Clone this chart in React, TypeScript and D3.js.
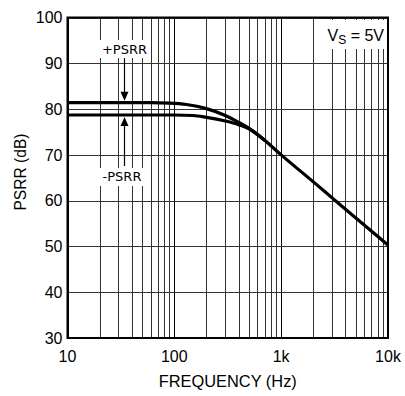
import React, { useEffect, useRef } from 'react'
import * as d3 from 'd3'

// values
const yTicks = [30, 40, 50, 60, 70, 80, 90, 100]
const xTicks = [10, 100, 1000, 10000]
const xTickLabels = ['10', '100', '1k', '10k']

const plusFreq = [10, 30, 60, 90, 130, 200, 300, 400, 500, 700, 1000, 2000, 3000, 5000, 10000]
const plusPsrr = [81.4, 81.4, 81.4, 81.3, 81.0, 80.1, 78.6, 77.1, 75.8, 73.2, 70.0, 64.1, 60.6, 56.2, 50.3]

const minusFreq = [10, 30, 60, 100, 150, 200, 300, 400, 500, 700]
const minusPsrr = [78.7, 78.7, 78.7, 78.7, 78.6, 78.2, 77.4, 76.6, 75.7, 73.2]

const W = 405
const H = 396

export default function App() {
  const ref = useRef<SVGSVGElement>(null)

  useEffect(() => {
    const svg = d3.select(ref.current)
    svg.selectAll('*').remove()

    const left = 67.5, right = 388, top = 17.5, bottom = 338
    const x = d3.scaleLog().domain([10, 10000]).range([left, right])
    const y = d3.scaleLinear().domain([30, 100]).range([bottom, top])

    svg.append('rect').attr('width', W).attr('height', H).attr('fill', '#fff')

    // minor/major vertical grid
    const vLines: number[] = []
    for (let dec = 10; dec < 10000; dec *= 10) {
      for (let k = 1; k < 10; k++) vLines.push(dec * k)
    }
    vLines.push(10000)
    svg.append('g').selectAll('line')
      .data(vLines).enter()
      .append('line')
      .attr('x1', d => Math.round(x(d)) + 0.5)
      .attr('x2', d => Math.round(x(d)) + 0.5)
      .attr('y1', top).attr('y2', bottom)
      .attr('stroke', d => (xTicks.includes(d) ? '#000' : '#333'))
      .attr('stroke-width', 1)

    svg.append('g').selectAll('line')
      .data(yTicks).enter()
      .append('line')
      .attr('x1', left).attr('x2', right)
      .attr('y1', d => Math.round(y(d)) + 0.5)
      .attr('y2', d => Math.round(y(d)) + 0.5)
      .attr('stroke', '#333')
      .attr('stroke-width', 1)

    // white boxes behind annotations
    svg.append('rect').attr('x', 318).attr('y', 20).attr('width', 68).attr('height', 29).attr('fill', '#fff')
    svg.append('rect').attr('x', 100).attr('y', 40).attr('width', 49).attr('height', 18).attr('fill', '#fff')
    svg.append('rect').attr('x', 98).attr('y', 168).attr('width', 48).attr('height', 18).attr('fill', '#fff')

    const line = d3.line<[number, number]>()
      .x(d => x(d[0]))
      .y(d => y(d[1]))
      .curve(d3.curveMonotoneX)

    const plus = plusFreq.map((f, i) => [f, plusPsrr[i]] as [number, number])
    const minus = minusFreq.map((f, i) => [f, minusPsrr[i]] as [number, number])

    svg.append('path').attr('d', line(plus)).attr('fill', 'none')
      .attr('stroke', '#000').attr('stroke-width', 3.2)
    svg.append('path').attr('d', line(minus)).attr('fill', 'none')
      .attr('stroke', '#000').attr('stroke-width', 3.2)

    // border
    svg.append('rect').attr('x', left).attr('y', top)
      .attr('width', right - left).attr('height', bottom - top)
      .attr('fill', 'none').attr('stroke', '#000').attr('stroke-width', 2)

    // annotations
    const ax = 124.5
    const uy = y(plusPsrr[2]) - 2
    const ly = y(minusPsrr[2]) + 2
    svg.append('line').attr('x1', ax).attr('x2', ax).attr('y1', 58).attr('y2', uy - 8)
      .attr('stroke', '#000').attr('stroke-width', 1.2)
    svg.append('path')
      .attr('d', `M${ax - 4},${uy - 9}L${ax + 4},${uy - 9}L${ax},${uy}Z`).attr('fill', '#000')
    svg.append('line').attr('x1', ax).attr('x2', ax).attr('y1', ly + 8).attr('y2', 166)
      .attr('stroke', '#000').attr('stroke-width', 1.2)
    svg.append('path')
      .attr('d', `M${ax - 4},${ly + 9}L${ax + 4},${ly + 9}L${ax},${ly}Z`).attr('fill', '#000')

    svg.append('text').attr('x', ax).attr('y', 54).attr('text-anchor', 'middle')
      .attr('font-family', 'DejaVu Sans').attr('font-size', 13).text('+PSRR')
    svg.append('text').attr('x', 122).attr('y', 181).attr('text-anchor', 'middle')
      .attr('font-family', 'DejaVu Sans').attr('font-size', 13).text('-PSRR')

    const vs = svg.append('text').attr('x', 384).attr('y', 41).attr('text-anchor', 'end')
      .attr('font-family', 'Liberation Sans, Arial').attr('font-size', 16)
    vs.append('tspan').text('V')
    vs.append('tspan').attr('font-size', 12).attr('dy', 3).text('S')
    vs.append('tspan').attr('dy', -3).text(' = 5V')

    // tick labels
    svg.append('g').selectAll('text')
      .data(yTicks).enter()
      .append('text')
      .attr('x', 62.5)
      .attr('y', d => y(d))
      .attr('dy', '0.36em')
      .attr('text-anchor', 'end')
      .attr('font-family', 'Liberation Sans, Arial').attr('font-size', 16)
      .text(d => d)

    svg.append('g').selectAll('text')
      .data(xTicks).enter()
      .append('text')
      .attr('x', d => x(d))
      .attr('y', 362)
      .attr('text-anchor', 'middle')
      .attr('font-family', 'Liberation Sans, Arial').attr('font-size', 16)
      .text((d, i) => xTickLabels[i])

    svg.append('text').attr('x', (left + right) / 2).attr('y', 387)
      .attr('text-anchor', 'middle')
      .attr('font-family', 'Liberation Sans, Arial').attr('font-size', 16.4)
      .text('FREQUENCY (Hz)')

    svg.append('text')
      .attr('transform', `translate(26,172) rotate(-90)`)
      .attr('text-anchor', 'middle')
      .attr('font-family', 'Liberation Sans, Arial').attr('font-size', 15.6)
      .text('PSRR (dB)')
  }, [])

  return (
    <svg ref={ref} width={W} height={H}
      style={{ position: 'absolute', left: 0, top: 0, display: 'block' }} />
  )
}
